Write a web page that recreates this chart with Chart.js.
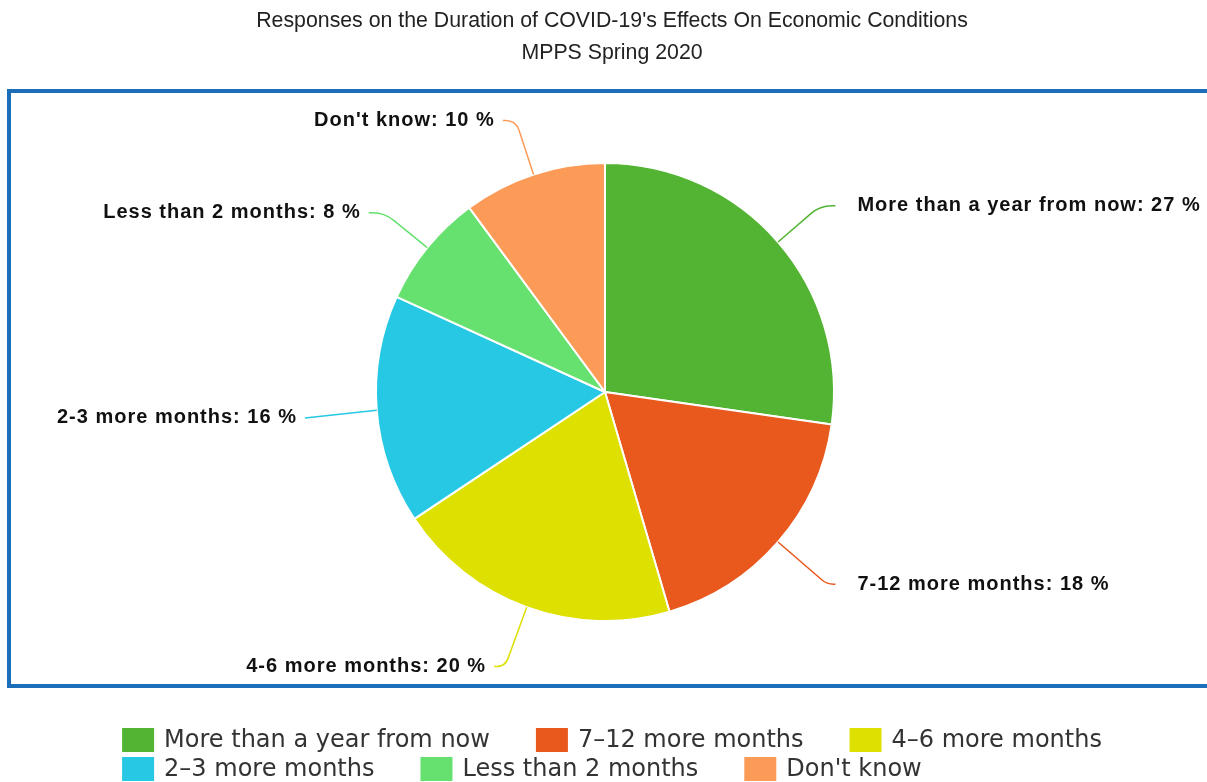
<!DOCTYPE html>
<html><head><meta charset="utf-8">
<script src="https://cdn.jsdelivr.net/npm/chart.js@4.4.1/dist/chart.umd.min.js"></script>
<style>html,body{margin:0;padding:0;background:#fff;}#wrap{width:1207px;height:782px;position:relative;overflow:hidden;}</style>
</head><body><div id="wrap"><canvas id="c" width="1207" height="782"></canvas></div>
<script>
const titleLines = ["Responses on the Duration of COVID-19's Effects On Economic Conditions", "MPPS Spring 2020"];
const categories = ["More than a year from now", "7-12 more months", "4-6 more months", "2-3 more months", "Less than 2 months", "Don't know"];
const values = [27, 18, 20, 16, 8, 10];
const colors = ["#53b433", "#e9581c", "#dde000", "#27c8e4", "#66e06e", "#fc9a58"];

const decor = {
  id: 'decor',
  beforeDraw(chart) {
    const ctx = chart.ctx;
    ctx.save();
    ctx.fillStyle = '#fff';
    ctx.fillRect(0, 0, chart.width, chart.height);
    ctx.strokeStyle = '#1b6fb9';
    ctx.lineWidth = 4;
    ctx.strokeRect(9, 91, 1250, 595);
    ctx.restore();
  },
  afterDraw(chart) {
    const ctx = chart.ctx;
    ctx.save();
    // title
    ctx.fillStyle = '#222';
    ctx.font = '21.3px "Liberation Sans", Arial, sans-serif';
    ctx.textAlign = 'center';
    ctx.textBaseline = 'middle';
    ctx.fillText(titleLines[0], 612, 21);
    ctx.fillText(titleLines[1], 612, 53);

    // data labels with connectors
    const meta = chart.getDatasetMeta(0);
    const R = 289;
    meta.data.forEach((arc, i) => {
      const cx = arc.x, cy = arc.y, r = arc.outerRadius;
      const mid = (arc.startAngle + arc.endAngle) / 2;
      const c = Math.cos(mid), s = Math.sin(mid);
      const right = c >= 0;
      const sign = right ? 1 : -1;
      const y = cy + R * s + 3;
      const ex = cx + sign * (R * Math.abs(c) + 12);
      const p0x = cx + r * c, p0y = cy + r * s;
      ctx.strokeStyle = colors[i];
      ctx.lineWidth = 1.5;
      ctx.beginPath();
      ctx.moveTo(p0x, p0y);
      let straight = true;
      if (Math.abs(s) > 0.05) {
        const t = (y - p0y) / s;
        const Cx = p0x + c * t, Cy = y;
        const gap = sign * (ex - Cx);
        if (t > 0 && gap > 2) {
          straight = false;
          const rr = Math.min(12, t * 0.5, gap * 0.8);
          ctx.lineTo(Cx - c * rr, Cy - s * rr);
          ctx.quadraticCurveTo(Cx, Cy, Cx + sign * rr, Cy);
          ctx.lineTo(ex, y);
        }
      }
      if (straight) ctx.lineTo(ex, y);
      ctx.stroke();

      ctx.fillStyle = '#111';
      ctx.font = 'bold 20px "Liberation Sans", Arial, sans-serif';
      ctx.letterSpacing = '1px';
      ctx.textBaseline = 'middle';
      const txt = categories[i] + ': ' + values[i] + ' %';
      if (right) {
        ctx.textAlign = 'left';
        ctx.fillText(txt, ex + 22, y);
      } else {
        ctx.textAlign = 'right';
        ctx.fillText(txt, ex - 8, y);
      }
    });
    ctx.letterSpacing = '0px';

    // legend (block centred, lines left aligned)
    ctx.font = '24px "DejaVu Sans", sans-serif';
    ctx.textAlign = 'left';
    ctx.textBaseline = 'middle';
    const boxW = 32, boxH = 24, boxGap = 10, itemGap = 46, maxW = 1150;
    const items = categories.map((cat, i) => {
      const text = cat.replace(/(\d)-(\d)/, '$1\u2013$2');
      return { text, color: colors[i], w: boxW + boxGap + ctx.measureText(text).width };
    });
    const lines = [[]];
    let lw = 0;
    items.forEach(it => {
      const cur = lines[lines.length - 1];
      const add = (cur.length ? itemGap : 0) + it.w;
      if (cur.length && lw + add > maxW) { lines.push([it]); lw = it.w; }
      else { cur.push(it); lw += add; }
    });
    const widths = lines.map(l => l.reduce((a, it, k) => a + it.w + (k ? itemGap : 0), 0));
    const blockW = Math.max(...widths);
    const x0 = 612 - blockW / 2;
    lines.forEach((l, li) => {
      const yc = 740 + li * 29;
      let x = x0;
      l.forEach(it => {
        ctx.fillStyle = it.color;
        ctx.fillRect(x, yc - boxH / 2, boxW, boxH);
        ctx.fillStyle = '#333';
        ctx.fillText(it.text, x + boxW + boxGap, yc + 1);
        x += it.w + itemGap;
      });
    });
    ctx.restore();
  }
};

new Chart(document.getElementById('c').getContext('2d'), {
  type: 'pie',
  data: {
    labels: categories,
    datasets: [{ data: values, backgroundColor: colors, borderColor: '#ffffff', borderWidth: 2 }]
  },
  options: {
    responsive: false,
    animation: false,
    layout: { padding: { left: 375, right: 372, top: 162, bottom: 160 } },
    plugins: { legend: { display: false }, title: { display: false }, tooltip: { enabled: false } }
  },
  plugins: [decor]
});
</script>
</body></html>
